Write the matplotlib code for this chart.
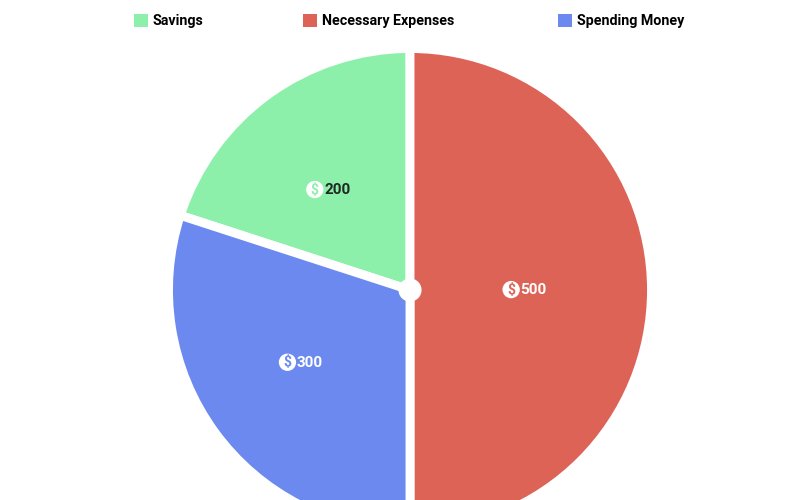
import numpy as np
import matplotlib.pyplot as plt
from matplotlib.patches import Circle

plt.rcParams['font.family'] = ['Roboto', 'DejaVu Sans']

categories = ['Savings', 'Necessary Expenses', 'Spending Money']
values = [200, 500, 300]
colors = ['#8df0aa', '#de6357', '#6b89ee']
label_colors = ['#1e2a22', 'white', 'white']

fig = plt.figure(figsize=(8, 5), dpi=100)
# pie centre at (410, 290) px, radius ~241 px
R = 241.5
ax = fig.add_axes([(410 - R) / 800, (210 - R) / 500, 2 * R / 800, 2 * R / 500])

wedges, _ = ax.pie(values, colors=colors, startangle=162, counterclock=False,
                   radius=1, center=(0, 0), frame=True,
                   wedgeprops=dict(edgecolor='white', linewidth=6.4, joinstyle='round'))
ax.set_xlim(-1, 1)
ax.set_ylim(-1, 1)
ax.axis('off')
ax.add_patch(Circle((0, 0), 0.045, color='white', zorder=5))

# value labels with a dollar icon on the left
for w, v, c, lc in zip(wedges, values, colors, label_colors):
    mid = np.deg2rad((w.theta1 + w.theta2) / 2)
    xy = (0.512 * np.cos(mid), 0.512 * np.sin(mid))
    ax.annotate(r'\$', xy=xy, xytext=(-16.2, 0.3), textcoords='offset points',
                ha='center', va='center', fontsize=10, fontweight='bold', color=c,
                bbox=dict(boxstyle='circle,pad=0.12', fc='white', ec='none'))
    ax.annotate(str(v), xy=xy, xytext=(0, 0), textcoords='offset points',
                ha='center', va='center', fontsize=11, fontweight='bold', color=lc)

# legend items placed across the top
legend_x = [134, 303, 558]
for w, name, lx in zip(wedges, categories, legend_x):
    fig.legend([w], [name], loc='center left', bbox_to_anchor=(lx / 800, 1 - 21 / 500),
               frameon=False, handlelength=1.0, handleheight=1.0, handletextpad=0.3,
               prop=dict(size=10.3, weight='bold'), borderpad=0, borderaxespad=0)
for leg in fig.legends:
    for h in leg.legend_handles:
        h.set_edgecolor('none')

fig.savefig('out.png', dpi=100)
